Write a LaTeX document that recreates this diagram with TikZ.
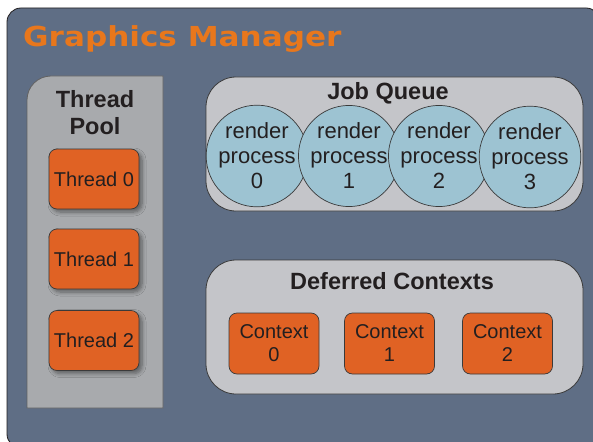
\documentclass[tikz,border=0pt]{standalone}
\usepackage{fontspec}
\setmainfont{Liberation Sans}
\newfontfamily\headfont{DejaVu Sans}
\usetikzlibrary{shadows.blur}
\definecolor{slate}{HTML}{5F6E85}
\definecolor{panel}{HTML}{C4C5C9}
\definecolor{poolgray}{HTML}{A8AAAD}
\definecolor{jobblue}{HTML}{9DC3D2}
\definecolor{taskorange}{HTML}{E06224}
\definecolor{headorange}{HTML}{E8771C}
\definecolor{ink}{HTML}{231F20}
\definecolor{edge}{HTML}{3A3A3A}
\tikzset{
  panelbox/.style={draw=edge, line width=0.8pt, fill=panel, rounded corners=30pt, inner sep=0pt},
  heading/.style={text=ink, font=\fontsize{23.5}{27}\selectfont\bfseries, align=center, inner sep=0pt},
  jobcircle/.style={circle, draw=edge, line width=0.7pt, fill=jobblue, minimum size=86pt, inner sep=0pt,
    text=ink, font=\fontsize{22}{25}\selectfont, align=center},
  threadbox/.style={draw=edge, line width=0.7pt, fill=taskorange, rounded corners=8pt,
    minimum width=90pt, minimum height=60pt, inner sep=0pt, text=ink,
    font=\fontsize{20}{23}\selectfont, align=center,
    blur shadow={shadow xshift=3pt, shadow yshift=-3pt, shadow opacity=45, shadow blur steps=6, shadow blur radius=4pt}},
  contextbox/.style={draw=edge, line width=0.7pt, fill=taskorange, rounded corners=8pt,
    minimum width=90pt, minimum height=61pt, inner sep=0pt, text=ink,
    font=\fontsize{20}{23}\selectfont, align=center},
}
\begin{document}
\begin{tikzpicture}[x=1pt, y=-1pt]
  \useasboundingbox (0,0) rectangle (593,441);
  \begin{scope}
    \clip (0,0) rectangle (593,441);
    % outer frame
    \draw[fill=slate, draw=ink, line width=0.8pt, rounded corners=14pt] (7,8) rectangle (600,448);
  \end{scope}
  \node[anchor=base west, inner sep=0pt, text=headorange]
    (title) at (23,47) {\headfont\fontsize{27.5}{30}\selectfont\bfseries\scalebox{1.13}[1]{Graphics Manager}};

  % thread pool column
  \draw[fill=poolgray, draw=edge!80, line width=0.8pt]
    (27,408) -- (27,100) arc (180:270:24) -- (163,76) -- (163,408) -- cycle;
  \node[heading] (pool) at (95,112.5) {Thread\\[-0.5pt]Pool};
  \node[threadbox] (t0) at (94,179) {Thread 0};
  \node[threadbox] (t1) at (94,259) {Thread 1};
  \node[threadbox] (t2) at (94,340.5) {Thread 2};

  % job queue
  \node[panelbox, minimum width=377pt, minimum height=134pt] (queue) at (394.5,144) {};
  \node[heading] (qtitle) at (388,93) {Job Queue};
  \node[jobcircle] (r0) at (257,156) {render\\process\\0};
  \node[jobcircle] (r1) at (349,156) {render\\process\\1};
  \node[jobcircle] (r2) at (439,156) {render\\process\\2};
  \node[jobcircle] (r3) at (530,157) {render\\process\\3};

  % deferred contexts
  \node[panelbox, minimum width=377pt, minimum height=134pt] (deferred) at (394.5,327) {};
  \node[heading] (dtitle) at (392,281) {Deferred Contexts};
  \node[contextbox] (c0) at (274,343.5) {Context\\0};
  \node[contextbox] (c1) at (389.5,343.5) {Context\\1};
  \node[contextbox] (c2) at (507.5,343.5) {Context\\2};
\end{tikzpicture}
\end{document}
